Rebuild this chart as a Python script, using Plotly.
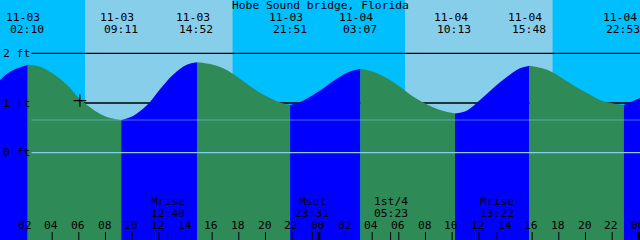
import plotly.graph_objects as go

# ---------------- data ----------------
title_text = "Hobe Sound bridge, Florida"

# tide curve readings: hours since 11-03 00:00, height in ft
tide_hours = [0.09, 0.84, 2.167, 3.09, 4.07, 5.11, 6.09, 7.07, 8.10, 9.183,
              10.07, 11.12, 12.09, 13.07, 14.10, 14.867, 16.07, 17.12, 18.09, 19.07,
              20.12, 21.09, 21.85, 22.59, 23.57, 24.09, 25.07, 26.11, 27.117, 28.07,
              29.12, 30.09, 31.07, 32.12, 33.09, 34.217, 35.12, 36.09, 37.07, 38.12,
              39.09, 39.80, 41.12, 42.09, 43.07, 44.12, 45.09, 46.07, 46.883, 48.09]
tide_ft = [1.46, 1.63, 1.77, 1.73, 1.59, 1.37, 1.08, 0.87, 0.72, 0.66,
           0.74, 0.96, 1.28, 1.57, 1.77, 1.82, 1.77, 1.66, 1.49, 1.30,
           1.13, 1.01, 0.96, 1.02, 1.16, 1.25, 1.44, 1.61, 1.69, 1.63,
           1.50, 1.33, 1.13, 0.97, 0.86, 0.79, 0.85, 1.06, 1.30, 1.53,
           1.70, 1.75, 1.67, 1.53, 1.36, 1.20, 1.06, 0.99, 0.96, 1.10]

# high / low events
event_dates = ["11-03", "11-03", "11-03", "11-03", "11-04", "11-04", "11-04", "11-04"]
event_times = ["02:10", "09:11", "14:52", "21:51", "03:07", "10:13", "15:48", "22:53"]

# moon events
moon_labels = ["Mrise", "Mset", "1st/4", "Mrise", "Mset"]
moon_dates = ["11-03", "11-03", "11-04", "11-04", "11-05"]
moon_times = ["12:40", "23:31", "05:23", "13:22", "00:24"]

# sun
sunrise_dates = ["11-03", "11-04"]
sunrise_times = ["06:28", "06:28"]
sunset_times = ["17:32", "17:32"]

# now marker
now_date, now_time, now_ft = "11-03", "06:05", 1.05

# level lines (ft)
grid_levels = [2, 1]
mark_level = 0.657
datum_level = 0
level_labels = ["2 ft", "1 ft", "0 ft"]
level_values = [2, 1, 0]

hour_ticks = list(range(2, 49, 2))
hour_labels = ["%02d" % (h % 24) for h in hour_ticks]
midnights = [24, 48]

# ---------------- helpers ----------------
def to_h(date, t):
    day = int(date.split("-")[1]) - 3
    hh, mm = t.split(":")
    return day * 24 + int(hh) + int(mm) / 60.0

X0 = 0.09
XR = [X0, X0 + 48]
YR = [-1.762, 3.077]
FONT = "DejaVu Sans Mono"
FS = 11.3

NIGHT = "#00BFFF"
DAY = "#87CEEB"
RISE = "#0000FF"
FALL = "#2E8B57"

def py(pix):  # pixel row -> paper y
    return 1 - pix / 240.0

fig = go.Figure()

# ---------------- water segments ----------------
event_h = [to_h(d, t) for d, t in zip(event_dates, event_times)]
split_idx = [0]
for eh in event_h:
    i = min(range(len(tide_hours)), key=lambda k: abs(tide_hours[k] - eh))
    split_idx.append(i)
split_idx.append(len(tide_hours) - 1)

for a, b in zip(split_idx[:-1], split_idx[1:]):
    xs = tide_hours[a:b + 1]
    ys = tide_ft[a:b + 1]
    col = RISE if ys[-1] > ys[0] else FALL
    fig.add_trace(go.Scatter(x=[xs[0], xs[-1]], y=[YR[0] - 0.5, YR[0] - 0.5],
                             mode="lines", line=dict(width=0, color=col),
                             hoverinfo="skip", showlegend=False))
    fig.add_trace(go.Scatter(x=xs, y=ys, mode="lines", fill="tonexty",
                             fillcolor=col, line=dict(width=0, color=col, shape="spline", smoothing=1.0),
                             hoverinfo="skip", showlegend=False))

# now marker
fig.add_trace(go.Scatter(x=[to_h(now_date, now_time)], y=[now_ft], mode="markers",
                         marker=dict(symbol="cross-thin", size=9,
                                     line=dict(color="black", width=1.2)),
                         hoverinfo="skip", showlegend=False))

shapes = []
# daylight
for d, sr, ss in zip(sunrise_dates, sunrise_times, sunset_times):
    shapes.append(dict(type="rect", xref="x", yref="paper", x0=to_h(d, sr), x1=to_h(d, ss),
                       y0=0, y1=1, fillcolor=DAY, line=dict(width=0), layer="below"))
# black level lines (behind water)
line_start = X0 + 31.5 / 640 * 48
for lv in grid_levels:
    shapes.append(dict(type="line", xref="x", yref="y", x0=line_start, x1=XR[1],
                       y0=lv, y1=lv, line=dict(color="black", width=1.3), layer="below"))
# lines above water
shapes.append(dict(type="line", xref="x", yref="y", x0=line_start, x1=XR[1],
                   y0=mark_level, y1=mark_level,
                   line=dict(color="rgba(135,206,235,0.55)", width=1.2), layer="above"))
shapes.append(dict(type="line", xref="x", yref="y", x0=line_start, x1=XR[1],
                   y0=datum_level, y1=datum_level,
                   line=dict(color=DAY, width=1.2), layer="above"))
# ticks
for h in hour_ticks:
    shapes.append(dict(type="line", xref="x", yref="paper", x0=h, x1=h,
                       y0=0, y1=8 / 240, line=dict(color="black", width=1)))
for h in midnights:
    shapes.append(dict(type="line", xref="x", yref="paper", x0=h, x1=h,
                       y0=0, y1=8 / 240, line=dict(color="black", width=3)))
for d, t in zip(moon_dates, moon_times):
    h = to_h(d, t)
    shapes.append(dict(type="line", xref="x", yref="paper", x0=h, x1=h,
                       y0=0, y1=8 / 240, line=dict(color="black", width=1)))

ann = []
def txt(x, y, s, xref="x", yref="paper", xanchor="center", xshift=0):
    ann.append(dict(x=x, y=y, xref=xref, yref=yref, text=s, showarrow=False,
                    xanchor=xanchor, yanchor="middle", xshift=xshift,
                    font=dict(family=FONT, size=FS, color="black")))

txt(0.5, py(5.5), title_text, xref="paper")
for h, d, t in zip(event_h, event_dates, event_times):
    txt(h, py(17.5), d, xshift=-4.2)
    txt(h, py(29), t, xshift=-0.6)
for lab, d, t in zip(moon_labels, moon_dates, moon_times):
    h = to_h(d, t)
    txt(h, py(201.8), lab)
    txt(h, py(213.3), t)
for h, lab in zip(hour_ticks, hour_labels):
    txt(h, py(225.8), lab, xshift=-0.8)
for lab, lv in zip(level_labels, level_values):
    txt(0, lv, lab, xref="paper", yref="y", xanchor="left", xshift=0.5)

fig.update_layout(
    width=640, height=240, autosize=False,
    margin=dict(l=0, r=0, t=0, b=0, pad=0),
    paper_bgcolor=NIGHT, plot_bgcolor=NIGHT,
    xaxis=dict(range=XR, visible=False, fixedrange=True),
    yaxis=dict(range=YR, visible=False, fixedrange=True),
    shapes=shapes, annotations=ann, showlegend=False,
)
fig.write_html("out.html", config={"displayModeBar": False})
